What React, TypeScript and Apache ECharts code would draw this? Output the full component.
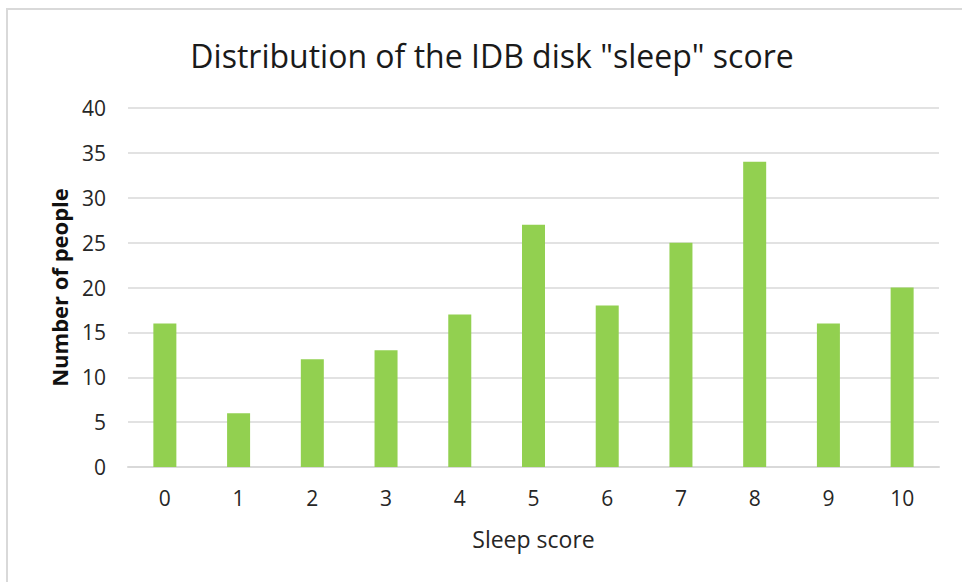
import React, { useEffect, useRef } from "react";
import * as echarts from "echarts";

const categories = ["0", "1", "2", "3", "4", "5", "6", "7", "8", "9", "10"];
const counts = [16, 6, 12, 13, 17, 27, 18, 25, 34, 16, 20];
const titleText = 'Distribution of the IDB disk "sleep" score';
const xName = "Sleep score";
const yName = "Number of people";

export default function App() {
  const ref = useRef<HTMLDivElement>(null);
  useEffect(() => {
    if (!ref.current) return;
    const chart = echarts.init(ref.current, null, { renderer: "svg" });
    const font = "'Open Sans', sans-serif";
    chart.setOption({
      animation: false,
      backgroundColor: "#ffffff",
      title: {
        text: titleText,
        left: 487,
        top: 34,
        textAlign: "center",
        textStyle: { fontFamily: font, fontSize: 32, fontWeight: "normal", color: "#1a1a1a" },
      },
      graphic: [
        {
          type: "rect",
          shape: { x: 7, y: 9, width: 1000, height: 1000 },
          style: { fill: "none", stroke: "#d9d9d9", lineWidth: 2 },
          silent: true,
        },
      ],
      grid: { left: 128, right: 23, top: 108, bottom: 115 },
      xAxis: {
        type: "category",
        data: categories,
        name: xName,
        nameLocation: "middle",
        nameGap: 60,
        nameTextStyle: { fontFamily: font, fontSize: 23, color: "#262626" },
        axisLine: { lineStyle: { color: "#d9d9d9", width: 2 } },
        axisTick: { show: false },
        axisLabel: { fontFamily: font, fontSize: 21, color: "#262626", margin: 20 },
      },
      yAxis: {
        type: "value",
        min: 0,
        max: 40,
        interval: 5,
        name: yName,
        nameLocation: "middle",
        nameGap: 58,
        nameTextStyle: { fontFamily: font, fontSize: 22, fontWeight: "bold", color: "#111111" },
        axisLine: { show: false },
        axisTick: { show: false },
        axisLabel: { fontFamily: font, fontSize: 21, color: "#262626", margin: 22 },
        splitLine: { lineStyle: { color: "#d9d9d9", width: 1.5 } },
      },
      series: [
        {
          type: "bar",
          data: counts,
          barWidth: 23,
          itemStyle: { color: "#92d050" },
        },
      ],
    });
    return () => chart.dispose();
  }, []);
  return (
    <div
      ref={ref}
      style={{ position: "fixed", left: 0, top: 0, width: 962, height: 582 }}
    />
  );
}
